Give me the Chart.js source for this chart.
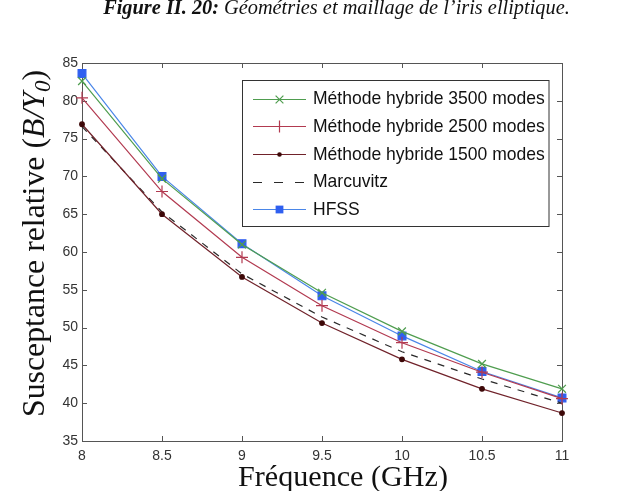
<!DOCTYPE html>
<html><head><meta charset="utf-8">
<script src="https://cdn.jsdelivr.net/npm/chart.js@4.4.1/dist/chart.umd.min.js"></script>
<style>html,body{margin:0;padding:0;background:#fff;} #wrap{position:relative;width:623px;height:491px;} canvas{display:block;}</style>
</head><body><div id="wrap"><canvas id="c" width="623" height="491"></canvas></div>
<script>
// ---- data ----
const frequencies = [8, 8.5, 9, 9.5, 10, 10.5, 11];
const hybrid3500 = [82.6, 69.7, 61.0, 54.6, 49.5, 45.2, 41.9];
const hybrid2500 = [80.4, 68.0, 59.3, 52.9, 48.0, 44.1, 40.6];
const hybrid1500 = [76.9, 65.0, 56.7, 50.6, 45.8, 41.9, 38.7];
const marcuvitz  = [76.6, 65.3, 57.1, 51.4, 46.8, 43.2, 40.0];
const hfss       = [83.6, 70.0, 61.1, 54.2, 48.9, 44.2, 40.7];
const xTicks = [8, 8.5, 9, 9.5, 10, 10.5, 11];
const yTicks = [35, 40, 45, 50, 55, 60, 65, 70, 75, 80, 85];
const seriesLabels = ['Méthode hybride 3500 modes', 'Méthode hybride 2500 modes', 'Méthode hybride 1500 modes', 'Marcuvitz', 'HFSS'];
const xTitle = 'Fréquence (GHz)';
const yTitleMain = 'Susceptance relative (';
const yTitleItalic = 'B/Y';
const yTitleSub = '0';
const yTitleEnd = ')';
const captionBold = 'Figure II. 20:';
const captionRest = 'Géométries et maillage de l\u2019iris elliptique.';

const pts = arr => frequencies.map((f, i) => ({x: f, y: arr[i]}));

const styles = [
  {color: '#4f9d4f', marker: 'crossRot', mcolor: '#4f9d4f', r: 5.5, dash: []},
  {color: '#b23a50', marker: 'cross', mcolor: '#b23a50', r: 6, dash: []},
  {color: '#70222a', marker: 'circle', mcolor: '#3d0808', r: 2.3, dash: []},
  {color: '#2a2a2a', marker: false, mcolor: '#2a2a2a', r: 0, dash: [7, 7]},
  {color: '#4a86e8', marker: 'rect', mcolor: '#2f5ff0', r: 5.5, dash: []}
];
const seriesData = [hybrid3500, hybrid2500, hybrid1500, marcuvitz, hfss];

const datasets = seriesData.map((arr, i) => {
  const s = styles[i];
  return {
    label: seriesLabels[i],
    data: pts(arr),
    borderColor: s.color,
    backgroundColor: s.mcolor,
    borderWidth: 1.2,
    borderDash: s.dash,
    pointStyle: s.marker || 'circle',
    pointRadius: s.marker ? s.r : 0,
    pointBorderColor: s.mcolor,
    pointBackgroundColor: s.mcolor,
    pointBorderWidth: 1.2,
    tension: 0,
    clip: false,
    fill: false
  };
});

const FONT_SANS = '"Liberation Sans", Arial, sans-serif';
const FONT_SERIF = '"Liberation Serif", "Times New Roman", serif';

function drawMarker(ctx, style, x, y, r, color) {
  ctx.save();
  ctx.strokeStyle = color; ctx.fillStyle = color; ctx.lineWidth = 1.2;
  ctx.beginPath();
  if (style === 'crossRot') {
    const o = r * Math.SQRT1_2;
    ctx.moveTo(x - o, y - o); ctx.lineTo(x + o, y + o);
    ctx.moveTo(x - o, y + o); ctx.lineTo(x + o, y - o);
    ctx.stroke();
  } else if (style === 'cross') {
    ctx.moveTo(x - r, y); ctx.lineTo(x + r, y);
    ctx.moveTo(x, y - r); ctx.lineTo(x, y + r);
    ctx.stroke();
  } else if (style === 'circle') {
    ctx.arc(x, y, r, 0, Math.PI * 2); ctx.fill();
  } else if (style === 'rect') {
    const o = r * Math.SQRT1_2;
    ctx.fillRect(x - o, y - o, 2 * o, 2 * o);
  }
  ctx.restore();
}

const framePlugin = {
  id: 'frame',
  beforeDatasetsDraw(chart) {
    const {ctx, chartArea: a, scales: {x, y}} = chart;
    ctx.save();
    ctx.strokeStyle = '#555'; ctx.lineWidth = 1;
    const L = 5;
    ctx.beginPath();
    x.ticks.forEach(t => {
      const px = Math.round(x.getPixelForValue(t.value)) + 0.5;
      ctx.moveTo(px, a.bottom); ctx.lineTo(px, a.bottom - L);
      ctx.moveTo(px, a.top); ctx.lineTo(px, a.top + L);
    });
    y.ticks.forEach(t => {
      const py = Math.round(y.getPixelForValue(t.value)) + 0.5;
      ctx.moveTo(a.left, py); ctx.lineTo(a.left + L, py);
      ctx.moveTo(a.right, py); ctx.lineTo(a.right - L, py);
    });
    ctx.stroke();
    ctx.strokeRect(Math.round(a.left) + 0.5, Math.round(a.top) + 0.5, Math.round(a.right - a.left), Math.round(a.bottom - a.top));
    ctx.restore();
  }
};

const textPlugin = {
  id: 'texts',
  afterDraw(chart) {
    const ctx = chart.ctx;
    ctx.save();
    // caption
    ctx.fillStyle = '#111';
    ctx.textBaseline = 'alphabetic';
    let cs = 20;
    ctx.font = 'italic ' + cs + 'px ' + FONT_SERIF;
    const restW = ctx.measureText(captionRest).width;
    cs = cs * 346 / restW;
    ctx.font = 'italic ' + cs + 'px ' + FONT_SERIF;
    ctx.textAlign = 'left';
    ctx.fillText(captionRest, 224, 14);
    ctx.font = 'italic bold ' + cs + 'px ' + FONT_SERIF;
    ctx.textAlign = 'right';
    ctx.fillText(captionBold, 219, 14);

    // x title
    ctx.fillStyle = '#111';
    let xs = 30;
    ctx.font = xs + 'px ' + FONT_SERIF;
    xs = xs * 210 / ctx.measureText(xTitle).width;
    ctx.font = xs + 'px ' + FONT_SERIF;
    ctx.textAlign = 'center';
    ctx.fillText(xTitle, 343, 486);

    // y title (rotated, mixed styles)
    let ys = 30;
    const parts = (s) => [
      {t: yTitleMain, f: s + 'px ' + FONT_SERIF, dy: 0},
      {t: yTitleItalic, f: 'italic ' + s + 'px ' + FONT_SERIF, dy: 0},
      {t: yTitleSub, f: 'italic ' + (s * 0.72) + 'px ' + FONT_SERIF, dy: s * 0.18},
      {t: yTitleEnd, f: s + 'px ' + FONT_SERIF, dy: 0}
    ];
    const widthOf = (ps) => ps.reduce((w, p) => { ctx.font = p.f; return w + ctx.measureText(p.t).width; }, 0);
    ys = ys * 347 / widthOf(parts(ys));
    const yp = parts(ys);
    const tw = widthOf(yp);
    ctx.translate(44, 243.5);
    ctx.rotate(-Math.PI / 2);
    ctx.textAlign = 'left';
    let cx = -tw / 2;
    yp.forEach(p => { ctx.font = p.f; ctx.fillText(p.t, cx, p.dy); cx += ctx.measureText(p.t).width; });
    ctx.restore();

    // legend
    ctx.save();
    ctx.fillStyle = '#fff';
    ctx.fillRect(242.5, 80.5, 306.5, 146);
    ctx.strokeStyle = '#333'; ctx.lineWidth = 1;
    ctx.strokeRect(242.5, 80.5, 306.5, 146);
    let ls = 17.5;
    ctx.font = ls + 'px ' + FONT_SANS;
    ls = ls * 232 / ctx.measureText(seriesLabels[0]).width;
    ctx.font = ls + 'px ' + FONT_SANS;
    ctx.textBaseline = 'middle';
    ctx.textAlign = 'left';
    chart.data.datasets.forEach((ds, i) => {
      const yy = 98.5 + i * 27.7;
      const s = styles[i];
      ctx.strokeStyle = ds.borderColor; ctx.lineWidth = 1.2;
      ctx.setLineDash(s.dash.length ? [9, 12] : []);
      ctx.beginPath(); ctx.moveTo(253, Math.round(yy) + 0.5); ctx.lineTo(306, Math.round(yy) + 0.5); ctx.stroke();
      ctx.setLineDash([]);
      if (s.marker) drawMarker(ctx, s.marker, 279.5, Math.round(yy) + 0.5, s.r, s.mcolor);
      ctx.fillStyle = '#111';
      ctx.fillText(ds.label, 313, yy + 1);
    });
    ctx.restore();
  }
};

new Chart(document.getElementById('c'), {
  type: 'line',
  data: {datasets},
  options: {
    responsive: false,
    animation: false,
    devicePixelRatio: 1,
    layout: {padding: {left: 42, top: 63, right: 61, bottom: 0}},
    plugins: {legend: {display: false}, tooltip: {enabled: false}, title: {display: false}},
    scales: {
      x: {
        type: 'linear', min: 8, max: 11,
        afterBuildTicks: s => { s.ticks = xTicks.map(v => ({value: v})); },
        afterFit: s => { s.height = 50; },
        grid: {display: false, drawTicks: false},
        border: {display: false},
        ticks: {padding: 7, color: '#333', font: {family: FONT_SANS, size: 14}, callback: v => String(v), maxRotation: 0, autoSkip: false}
      },
      y: {
        type: 'linear', min: 35, max: 85,
        afterBuildTicks: s => { s.ticks = yTicks.map(v => ({value: v})); },
        afterFit: s => { s.width = 40; },
        grid: {display: false, drawTicks: false},
        border: {display: false},
        ticks: {padding: 4, color: '#333', font: {family: FONT_SANS, size: 14}, callback: v => String(v), autoSkip: false}
      }
    }
  },
  plugins: [framePlugin, textPlugin]
});
</script>
</body></html>
